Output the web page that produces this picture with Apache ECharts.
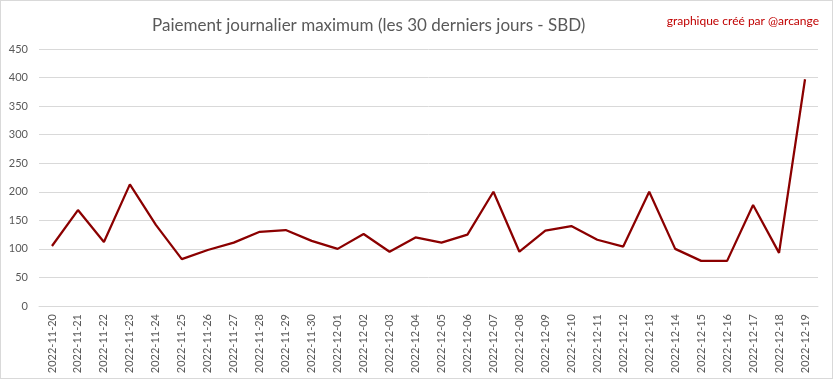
<!DOCTYPE html>
<html>
<head>
<meta charset="utf-8">
<script src="https://cdn.jsdelivr.net/npm/echarts@6/dist/echarts.min.js"></script>
<style>
html,body{margin:0;padding:0;background:#fff;}
#c{width:831px;height:377px;border:1px solid #d9d9d9;}
</style>
</head>
<body>
<div id="c"></div>
<script>
const categories = ["2022-11-20","2022-11-21","2022-11-22","2022-11-23","2022-11-24","2022-11-25","2022-11-26","2022-11-27","2022-11-28","2022-11-29","2022-11-30","2022-12-01","2022-12-02","2022-12-03","2022-12-04","2022-12-05","2022-12-06","2022-12-07","2022-12-08","2022-12-09","2022-12-10","2022-12-11","2022-12-12","2022-12-13","2022-12-14","2022-12-15","2022-12-16","2022-12-17","2022-12-18","2022-12-19"];
const values = [105,168,112,213,142,82,98,111,130,133,114,100,126,95,120,111,125,200,95,132,140,116,104,200,100,79,79,177,93,397];
const titleText = "Paiement journalier maximum (les 30 derniers jours - SBD)";
const creditText = "graphique créé par @arcange";

const chart = echarts.init(document.getElementById('c'));
chart.setOption({
  animation: false,
  textStyle: {fontFamily: 'Lato'},
  title: [
    {text: titleText, left: 146, top: 11,
     textStyle: {fontFamily: 'Lato', fontSize: 17, fontWeight: 'normal', color: '#595959'}},
    {text: creditText, right: 8, top: 9,
     textStyle: {fontFamily: 'Lato', fontSize: 12, fontWeight: 'normal', color: '#c00000'}}
  ],
  grid: {left: 38, right: 14, top: 48, bottom: 72},
  xAxis: {
    type: 'category', data: categories, boundaryGap: true,
    axisLine: {lineStyle: {color: '#d9d9d9'}},
    axisTick: {show: false},
    axisLabel: {rotate: 90, interval: 0, fontSize: 11, color: '#595959', margin: 8}
  },
  yAxis: {
    type: 'value', min: 0, max: 450, interval: 50,
    axisLine: {show: false}, axisTick: {show: false},
    splitLine: {lineStyle: {color: '#d9d9d9'}},
    axisLabel: {fontSize: 11, color: '#595959', margin: 11}
  },
  series: [{
    type: 'line', data: values, symbol: 'none',
    lineStyle: {color: '#8b0000', width: 2.25}
  }]
});
</script>
</body>
</html>
